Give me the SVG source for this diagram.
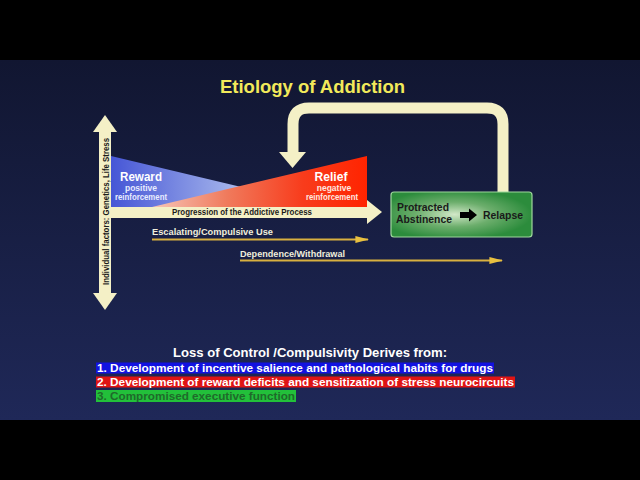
<svg xmlns="http://www.w3.org/2000/svg" width="640" height="480" viewBox="0 0 640 480">
<defs>
<linearGradient id="bg" x1="0" y1="0" x2="0" y2="1">
<stop offset="0" stop-color="#111631"/>
<stop offset="1" stop-color="#1f2858"/>
</linearGradient>
<linearGradient id="blueG" gradientUnits="userSpaceOnUse" x1="111" y1="0" x2="325" y2="0">
<stop offset="0" stop-color="#4656d6"/>
<stop offset="0.6" stop-color="#a8b8ec"/>
<stop offset="1" stop-color="#dde4f6"/>
</linearGradient>
<linearGradient id="redG" gradientUnits="userSpaceOnUse" x1="152" y1="0" x2="367" y2="0">
<stop offset="0" stop-color="#f6c6b8"/>
<stop offset="0.35" stop-color="#f07a5c"/>
<stop offset="0.7" stop-color="#f83c1c"/>
<stop offset="1" stop-color="#ff2400"/>
</linearGradient>
<radialGradient id="greenG" cx="0.45" cy="0.5" r="0.55">
<stop offset="0" stop-color="#d2e8c8"/>
<stop offset="0.5" stop-color="#6cae6c"/>
<stop offset="1" stop-color="#2c8c3c"/>
</radialGradient>
<marker id="goldHead2" viewBox="0 0 10 10" refX="9" refY="5" markerWidth="14" markerHeight="7" markerUnits="userSpaceOnUse" orient="auto" preserveAspectRatio="none">
<path d="M0,0 L10,5 L0,10 Z" fill="#e8c040"/>
</marker>
</defs>
<style>
.b{font-family:"Liberation Sans",Arial,sans-serif;font-weight:bold}
.cream{fill:#f4f0c6}
.lbl{font-size:9px;fill:#f0eedc}
.dark{fill:#1a1a1a}
.list{font-size:10.6px}
</style>

<rect x="0" y="0" width="640" height="480" fill="#000"/>
<rect x="0" y="60" width="640" height="360" fill="url(#bg)"/>

<text class="b" x="312.5" y="93" font-size="18" fill="#f2ea5a" text-anchor="middle" textLength="185" lengthAdjust="spacingAndGlyphs">Etiology of Addiction</text>

<g id="connectors">
<g id="loop-arrow">
<path d="M503,193 V124 Q503,108 487,108 H309 Q293,108 293,124 V153" fill="none" stroke="#f4f0c6" stroke-width="11"/>
<polygon class="cream" points="279,152 306,152 292.5,168"/>
</g>
<g id="progression-arrow">
<rect class="cream" x="105" y="206" width="263" height="12"/>
<polygon class="cream" points="367,200 382,212 367,224"/>
</g>
<g id="escalating-arrow">
<line x1="152" y1="239.5" x2="368" y2="239.5" stroke="#d8b040" stroke-width="1.8" marker-end="url(#goldHead2)"/>
</g>
<g id="dependence-arrow">
<line x1="240" y1="260.5" x2="502" y2="260.5" stroke="#d8b040" stroke-width="1.8" marker-end="url(#goldHead2)"/>
</g>
</g>

<g id="reward-relief">
<polygon points="111,156 325,207 111,207" fill="url(#blueG)"/>
<polygon points="152,207 367,156 367,207" fill="url(#redG)"/>
<text class="b" x="141" y="180.5" font-size="13" fill="#fff" text-anchor="middle" textLength="42" lengthAdjust="spacingAndGlyphs">Reward</text>
<text class="b" x="141" y="191" font-size="8.5" fill="#e8ecff" text-anchor="middle">positive</text>
<text class="b" x="141" y="200" font-size="8.5" fill="#e8ecff" text-anchor="middle" textLength="52" lengthAdjust="spacingAndGlyphs">reinforcement</text>
<text class="b" x="331" y="180.5" font-size="13" fill="#fff" text-anchor="middle" textLength="33" lengthAdjust="spacingAndGlyphs">Relief</text>
<text class="b" x="334" y="191" font-size="8.5" fill="#ffe8e0" text-anchor="middle">negative</text>
<text class="b" x="332" y="200" font-size="8.5" fill="#ffe8e0" text-anchor="middle" textLength="52" lengthAdjust="spacingAndGlyphs">reinforcement</text>
</g>

<text class="b dark" x="172" y="215" font-size="9" textLength="140" lengthAdjust="spacingAndGlyphs">Progression of the Addictive Process</text>

<g id="individual-factors">
<rect class="cream" x="99" y="131" width="12" height="163"/>
<polygon class="cream" points="93,132 105,115 117,132"/>
<polygon class="cream" points="93,293 105,310 117,293"/>
<text class="b dark" transform="translate(108.5,211.5) rotate(-90)" font-size="9" text-anchor="middle" textLength="147" lengthAdjust="spacingAndGlyphs">Individual factors: Genetics, Life Stress</text>
</g>

<text class="b lbl" x="152" y="235" textLength="121" lengthAdjust="spacingAndGlyphs">Escalating/Compulsive Use</text>
<text class="b lbl" x="240" y="256.5" textLength="105" lengthAdjust="spacingAndGlyphs">Dependence/Withdrawal</text>

<g id="abstinence-relapse">
<rect x="391" y="192" width="141" height="45" rx="3" fill="url(#greenG)" stroke="#9ed89c" stroke-width="1.2"/>
<text class="b dark" x="397" y="211" font-size="10" textLength="52" lengthAdjust="spacingAndGlyphs">Protracted</text>
<text class="b dark" x="396" y="223" font-size="10" textLength="56" lengthAdjust="spacingAndGlyphs">Abstinence</text>
<polygon points="460,212 469,212 469,208.5 477,215 469,221.5 469,218 460,218" fill="#000"/>
<text class="b dark" x="483" y="219" font-size="10" textLength="40" lengthAdjust="spacingAndGlyphs">Relapse</text>
</g>

<g id="loss-of-control">
<text class="b" x="310" y="357" font-size="12.5" fill="#fff" text-anchor="middle" textLength="274" lengthAdjust="spacingAndGlyphs">Loss of Control /Compulsivity Derives from:</text>
<rect x="96" y="362.5" width="398" height="11" fill="#1212e0"/>
<text class="b list" x="97" y="371.5" fill="#fff" textLength="396" lengthAdjust="spacingAndGlyphs">1. Development of incentive salience and pathological habits for drugs</text>
<rect x="96" y="376.5" width="419" height="11" fill="#e01414"/>
<text class="b list" x="97" y="385.5" fill="#fff" textLength="417" lengthAdjust="spacingAndGlyphs">2. Development of reward deficits and sensitization of stress neurocircuits</text>
<rect x="96" y="390" width="200" height="12" fill="#22c03a"/>
<text class="b list" x="97" y="399.5" fill="#1f6a2a" textLength="198" lengthAdjust="spacingAndGlyphs">3. Compromised executive function</text>
</g>
</svg>
